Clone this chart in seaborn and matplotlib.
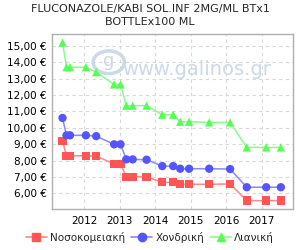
import matplotlib
matplotlib.use("Agg")
import matplotlib.pyplot as plt
import matplotlib.dates as mdates
from matplotlib.lines import Line2D
from matplotlib.ticker import FuncFormatter
import seaborn as sns
import pandas as pd

title = "FLUCONAZOLE/KABI SOL.INF 2MG/ML BTx1\nBOTTLEx100 ML"
dates = ["2011-05-25", "2011-07-05", "2011-08-10", "2012-01-20", "2012-05-05",
         "2012-11-05", "2013-01-10", "2013-03-10", "2013-05-15", "2013-10-05",
         "2014-03-15", "2014-07-05", "2014-09-15", "2014-12-15", "2015-07-10",
         "2016-02-10", "2016-07-30", "2017-02-15", "2017-07-15"]
series_names = ["Νοσοκομειακή", "Χονδρική", "Λιανική"]
hospital = [9.21, 8.29, 8.29, 8.29, 8.27, 7.79, 7.79, 7.01, 7.01, 7.01,
            6.67, 6.67, 6.55, 6.55, 6.55, 6.57, 5.55, 5.55, 5.55]
wholesale = [10.6, 9.54, 9.54, 9.54, 9.49, 8.99, 8.99, 8.07, 8.07, 8.05,
             7.66, 7.66, 7.5, 7.5, 7.5, 7.48, 6.37, 6.37, 6.37]
retail = [15.2, 13.7, 13.7, 13.7, 13.4, 12.65, 12.65, 11.35, 11.35, 11.35,
          10.8, 10.8, 10.37, 10.37, 10.33, 10.33, 8.8, 8.8, 8.8]
year_ticks = [2012, 2013, 2014, 2015, 2016, 2017]
y_ticks = [6, 7, 8, 9, 10, 11, 12, 13, 14, 15]

colors = {"Νοσοκομειακή": "#ff5555", "Χονδρική": "#5555ff", "Λιανική": "#55ff55"}
light = {"Νοσοκομειακή": "#ff8888", "Χονδρική": "#8888ff", "Λιανική": "#88ff88"}
markers = {"Νοσοκομειακή": "s", "Χονδρική": "o", "Λιανική": "^"}

frames = []
for name, vals in zip(series_names, [hospital, wholesale, retail]):
    frames.append(pd.DataFrame({"date": pd.to_datetime(dates), "price": vals, "series": name}))
df = pd.concat(frames, ignore_index=True)

sns.set_style("white")
plt.rcParams["font.family"] = ["DejaVu Sans"]

fig = plt.figure(figsize=(3, 2.5), dpi=100)
ax = fig.add_axes([0.1743, 0.164, 0.8014, 0.6988])

# watermark
wm = "#cdd8e8"
ax.text(0.6, 0.80, "www.galinos.gr", transform=ax.transAxes, fontsize=14,
        color=wm, ha="center", va="center", zorder=0)
circ = plt.Circle((0.235, 0.84), 0.065, transform=ax.transAxes, fill=False,
                  ec=wm, lw=2.5, zorder=0)
ax.add_patch(circ)
ax.text(0.235, 0.845, "g", transform=ax.transAxes, fontsize=13, color=wm,
        ha="center", va="center", zorder=0)

for name in series_names:
    sub = df[df["series"] == name]
    sns.lineplot(data=sub, x="date", y="price", ax=ax, color=light[name], lw=1.1,
                 zorder=2, legend=False)
    sns.scatterplot(data=sub, x="date", y="price", ax=ax, color=colors[name],
                    marker=markers[name], s=36, edgecolor="none", zorder=3, legend=False)

ax.set_ylim(5.04, 15.71)
ax.set_xlim(pd.Timestamp("2011-02-09"), pd.Timestamp("2017-11-14"))
ax.set_yticks(y_ticks)
ax.yaxis.set_major_formatter(FuncFormatter(lambda v, p: f"{v:.2f}".replace(".", ",") + " €"))
ax.set_xticks([pd.Timestamp(f"{y}-01-01") for y in year_ticks])
ax.xaxis.set_major_formatter(mdates.DateFormatter("%Y"))
ax.set_xlabel("")
ax.set_ylabel("")
ax.tick_params(axis="both", labelsize=7.5, length=0, pad=4, colors="black")
ax.tick_params(axis="x", pad=5)
ax.grid(True, color="#d8d8d8", ls=(0, (3, 3)), lw=0.8)
for s in ax.spines.values():
    s.set_color("#b0b0b0")
    s.set_linewidth(1.0)

fig.suptitle(title, fontsize=8, y=0.985, va="top", linespacing=1.4)

handles = [Line2D([0], [0], color=light[n], marker=markers[n], markerfacecolor=colors[n],
                  markeredgecolor=colors[n], markersize=6, lw=1.2) for n in series_names]
fig.legend(handles, series_names, loc="center", bbox_to_anchor=(0.5, 0.05), ncol=3,
           frameon=False, fontsize=7.5, handlelength=2.0, handletextpad=0.3,
           columnspacing=0.6)

fig.savefig("out.png", dpi=100)
